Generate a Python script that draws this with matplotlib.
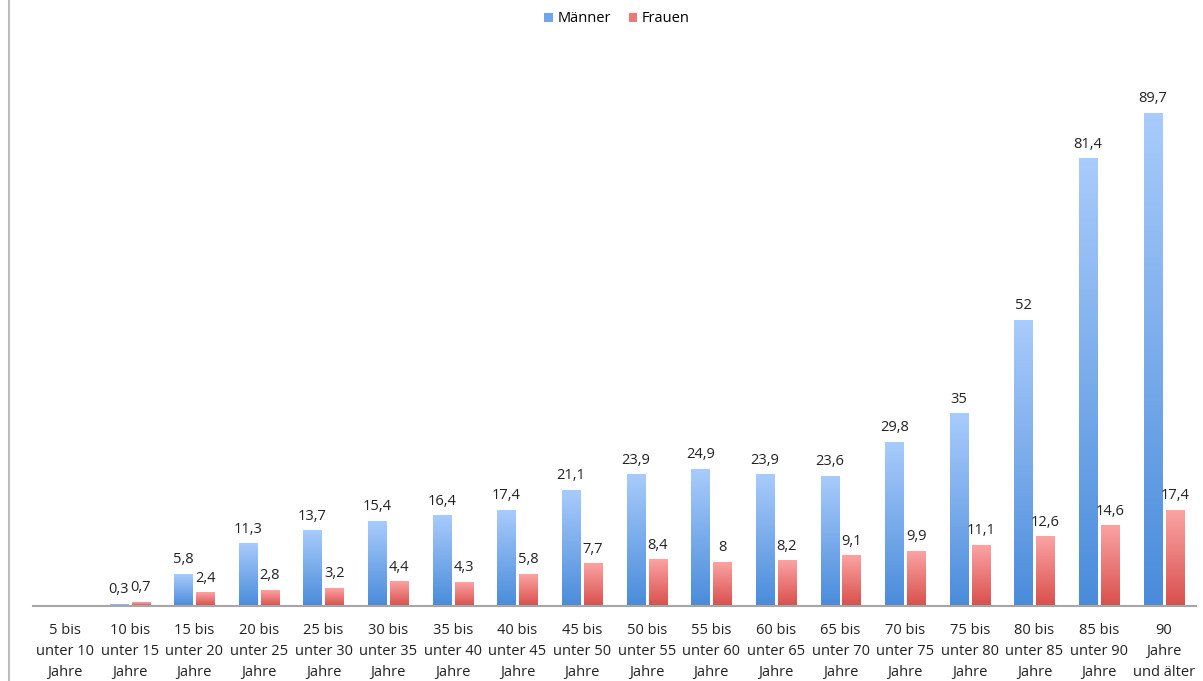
import numpy as np
import matplotlib.pyplot as plt
from matplotlib.colors import LinearSegmentedColormap
from matplotlib.lines import Line2D
from matplotlib.patches import Patch

plt.rcParams['font.family'] = ['Open Sans', 'DejaVu Sans']

# data
categories = ['5 bis\nunter 10\nJahre', '10 bis\nunter 15\nJahre', '15 bis\nunter 20\nJahre',
              '20 bis\nunter 25\nJahre', '25 bis\nunter 30\nJahre', '30 bis\nunter 35\nJahre',
              '35 bis\nunter 40\nJahre', '40 bis\nunter 45\nJahre', '45 bis\nunter 50\nJahre',
              '50 bis\nunter 55\nJahre', '55 bis\nunter 60\nJahre', '60 bis\nunter 65\nJahre',
              '65 bis\nunter 70\nJahre', '70 bis\nunter 75\nJahre', '75 bis\nunter 80\nJahre',
              '80 bis\nunter 85\nJahre', '85 bis\nunter 90\nJahre', '90\nJahre\nund älter']
maenner = [None, 0.3, 5.8, 11.3, 13.7, 15.4, 16.4, 17.4, 21.1, 23.9, 24.9, 23.9, 23.6, 29.8, 35, 52, 81.4, 89.7]
frauen = [None, 0.7, 2.4, 2.8, 3.2, 4.4, 4.3, 5.8, 7.7, 8.4, 8, 8.2, 9.1, 9.9, 11.1, 12.6, 14.6, 17.4]

blue_cmap = LinearSegmentedColormap.from_list('blue', ['#4a8cdb', '#a8cbfb'])
red_cmap = LinearSegmentedColormap.from_list('red', ['#d9504c', '#faa3a3'])

def fmt(v):
    s = ('%.1f' % v).rstrip('0').rstrip('.')
    return s.replace('.', ',')

def gradient_bar(ax, x, h, w, cmap):
    grad = np.linspace(1, 0, 64).reshape(-1, 1)
    ax.imshow(grad, extent=[x - w / 2, x + w / 2, 0, h], aspect='auto',
              cmap=cmap, vmin=0, vmax=1, zorder=2, interpolation='bicubic')

fig = plt.figure(figsize=(12.03, 6.81), dpi=100)
ax = fig.add_axes([32.7 / 1203, 75 / 681, (1196 - 32.7) / 1203, (606 - 40) / 681])

w = 0.28
off = 0.17
for i in range(len(categories)):
    for v, dx, cm in [(maenner[i], -off, blue_cmap), (frauen[i], off, red_cmap)]:
        if v is None:
            continue
        gradient_bar(ax, i + dx, v, w, cm)
        ax.text(i + dx, v + 1.3, fmt(v), ha='center', va='bottom', fontsize=10.5, color='#222222')

ax.set_xlim(-0.5, len(categories) - 0.5)
ax.set_ylim(0, 103)
ax.set_xticks(range(len(categories)))
ax.set_xticklabels(categories, fontsize=10.5, linespacing=1.55, color='#222222')
ax.tick_params(axis='x', length=0, pad=12)
ax.set_yticks([])
for s in ['top', 'right', 'left']:
    ax.spines[s].set_visible(False)
ax.spines['bottom'].set_color('#a6a6a6')
ax.spines['bottom'].set_linewidth(1.5)

handles = [Patch(facecolor='#6fa5ea', label='Männer'), Patch(facecolor='#ec7878', label='Frauen')]
fig.legend(handles=handles, loc='center', bbox_to_anchor=(617 / 1203, 1 - 19 / 681), ncol=2,
           frameon=False, fontsize=10.5, handlelength=0.6, handleheight=0.6,
           handletextpad=0.3, columnspacing=1.2)

fig.add_artist(Line2D([9 / 1203, 9 / 1203], [0, 1], color='#bdbdbd', lw=1.5))

fig.savefig('out.png', dpi=100)
